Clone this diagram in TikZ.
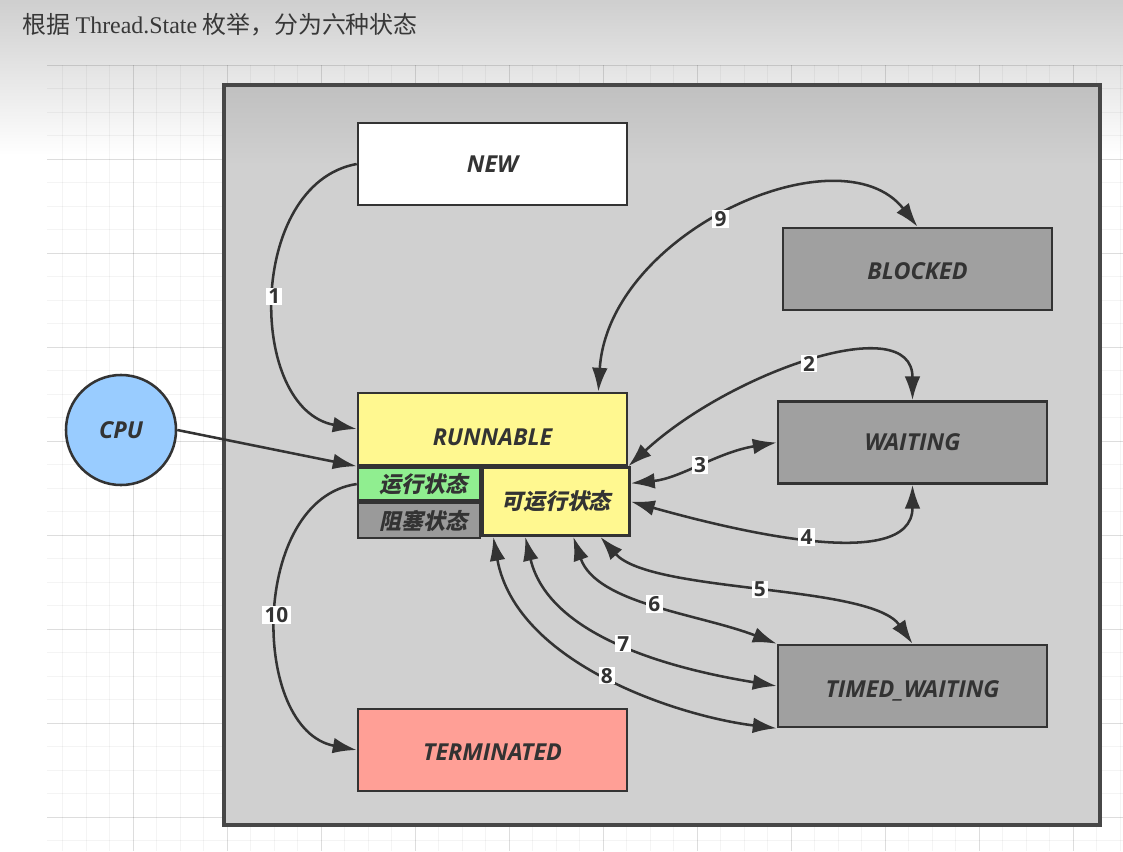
\documentclass[tikz,border=0pt]{standalone}
\usepackage{fontspec}
\usepackage{xcolor}
\usepackage{tikz}
\usetikzlibrary{positioning,arrows.meta,calc}

\setmainfont{Open Sans}
\newfontfamily\serifttl{Liberation Serif}
\newfontfamily\cjk{Noto Sans CJK SC}
\newfontfamily\cjkslant{Noto Sans CJK SC}[FakeSlant=0.22]

\definecolor{inkc}{HTML}{333333}
\definecolor{titlec}{HTML}{383838}
\definecolor{boxc}{HTML}{D0D0D0}
\definecolor{boxtopc}{HTML}{C0C0C0}
\definecolor{yellowc}{HTML}{FFF890}
\definecolor{greenc}{HTML}{90EE90}
\definecolor{haltc}{HTML}{9A9A9A}
\definecolor{grayc}{HTML}{A0A0A0}
\definecolor{termc}{HTML}{FF9F96}
\definecolor{cpuc}{HTML}{99CCFF}

\begin{document}
\begin{tikzpicture}[
x=0.0125cm,
y=-0.0125cm,
>={Latex[length=8.5pt,width=5.6pt]},
state/.style={
draw=inkc,
line width=0.9pt,
minimum width=3.3625cm,
minimum height=1.025cm,
inner sep=0pt,
text height=6pt,
text depth=0pt,
font=\bfseries\itshape\fontsize{8.3}{10}\selectfont,
text=inkc
},
substate/.style={
draw=inkc,
line width=0.9pt,
inner sep=0pt,
font=\cjkslant\bfseries\fontsize{7.8}{9}\selectfont,
text=inkc
},
num/.style={
fill=white,
inner xsep=0.8pt,
inner ysep=0.4pt,
font=\bfseries\fontsize{7.4}{8}\selectfont,
text=inkc
},
link/.style={
draw=inkc,
line width=0.9pt
},
gridminor/.style={draw=black,opacity=0.045,line width=0.35pt},
gridmajor/.style={draw=black,opacity=0.09,line width=0.35pt}
]

\useasboundingbox (0,0) rectangle (1123,851);

%%%%%%%%%%%%%%%%%%%%%%%%%%%%%%%%%%%%
% Background
%%%%%%%%%%%%%%%%%%%%%%%%%%%%%%%%%%%%

\fill[white] (0,0) rectangle (1123,851);
\shade[top color=black!19,bottom color=white] (0,0) rectangle (1123,155);

\foreach \i in {0,...,45}
\draw[gridminor] (62.5+23.5*\i,65) -- (62.5+23.5*\i,851);
\foreach \j in {0,...,33}
\draw[gridminor] (47,65+23.5*\j) -- (1123,65+23.5*\j);
\foreach \i in {0,...,10}
\draw[gridmajor] (133+94*\i,65) -- (133+94*\i,851);
\foreach \j in {0,...,8}
\draw[gridmajor] (47,65+94*\j) -- (1123,65+94*\j);

\node[anchor=west,inner sep=0pt,text=titlec,
font=\cjk\fontsize{8.5}{10}\selectfont] (title) at (22,25)
{根据 {\serifttl Thread.State} 枚举，分为六种状态};

\fill[boxc] (224,85) rectangle (1100,825);
\shade[top color=boxtopc,bottom color=boxc] (224,85) rectangle (1100,165);
\draw[line width=1.1pt,draw=black!72] (224,85) rectangle (1100,825);

%%%%%%%%%%%%%%%%%%%%%%%%%%%%%%%%%%%%
% States
%%%%%%%%%%%%%%%%%%%%%%%%%%%%%%%%%%%%

\node[state,fill=white] (new) at (492.5,164) {NEW};

\node[state,fill=grayc] (blocked) at (917.5,269) {\raisebox{-0.7pt}{BLOCKED}};

\node[state,fill=grayc] (waiting) at (912.5,442.5) {WAITING};

\node[state,fill=grayc] (timedwait) at (912.5,686) {\raisebox{-1pt}{TIMED\_WAITING}};

\node[state,fill=termc] (terminated) at (492.5,750) {\raisebox{-0.7pt}{TERMINATED}};

\node[state,fill=yellowc,minimum height=0.9cm] (runnable) at (492.5,429)
{\raisebox{-2.8pt}{RUNNABLE}};

\node[substate,fill=greenc,minimum width=1.525cm,minimum height=0.4125cm,
anchor=north west] (running) at (runnable.south west) {\hspace{3pt}运行状态};

\node[substate,fill=haltc,minimum width=1.525cm,minimum height=0.4375cm,
anchor=north west] (halted) at (running.south west) {\hspace{3pt}阻塞状态};

\node[substate,fill=yellowc,minimum width=1.8375cm,minimum height=0.85cm,
anchor=north west] (ready) at (running.north east) {可运行状态};

\node[circle,draw=inkc,line width=0.9pt,fill=cpuc,minimum size=1.375cm,
inner sep=0pt,text=inkc,font=\bfseries\itshape\fontsize{8.3}{10}\selectfont]
(cpu) at (121,430) {CPU};

%%%%%%%%%%%%%%%%%%%%%%%%%%%%%%%%%%%%
% Connections
%%%%%%%%%%%%%%%%%%%%%%%%%%%%%%%%%%%%

\draw[link,->] (cpu.east) -- (running.north west);

\draw[link,->] (new.west) .. controls +(-110,20) and +(-110,-20) .. (runnable.west)
node[num,pos=.5] {1};

\draw[link,->] (running.west) .. controls +(-107,15) and +(-107,-20) .. (terminated.west)
node[num,pos=.5] {10};

\draw[link,<->] ($(runnable.north east)+(-30,0)$) .. controls +(10,-160) and +(-77,-98) .. (blocked.north)
node[num,pos=.47] {9};

\draw[link,<->] (runnable.south east) .. controls +(103,-95) and +(0,-91) .. (waiting.north)
node[num,pos=.5] {2};

\draw[link,<->] ($(ready.north east)+(0,17)$) .. controls +(50,-5) and +(-60,10) .. (waiting.west)
node[num,pos=.5] {3};

\draw[link,<->] (ready.east) .. controls +(93,26) and +(0,91) .. (waiting.south)
node[num,pos=.5] {4};

\draw[link,<->] ($(ready.south west)+(119,0)$) .. controls +(51,57) and +(-42,-60) .. (timedwait.north)
node[num,pos=.5] {5};

\draw[link,<->] ($(ready.south west)+(92,0)$) .. controls +(23,67) and +(-78,-30) .. (timedwait.north west)
node[num,pos=.5] {6};

\draw[link,<->] ($(ready.south west)+(44,0)$) .. controls +(24,102) and +(-98,-16) .. (timedwait.west)
node[num,pos=.5] {7};

\draw[link,<->] ($(ready.south west)+(12,0)$) .. controls +(23,127) and +(-98,-12) .. (timedwait.south west)
node[num,pos=.5] {8};

\end{tikzpicture}
\end{document}
